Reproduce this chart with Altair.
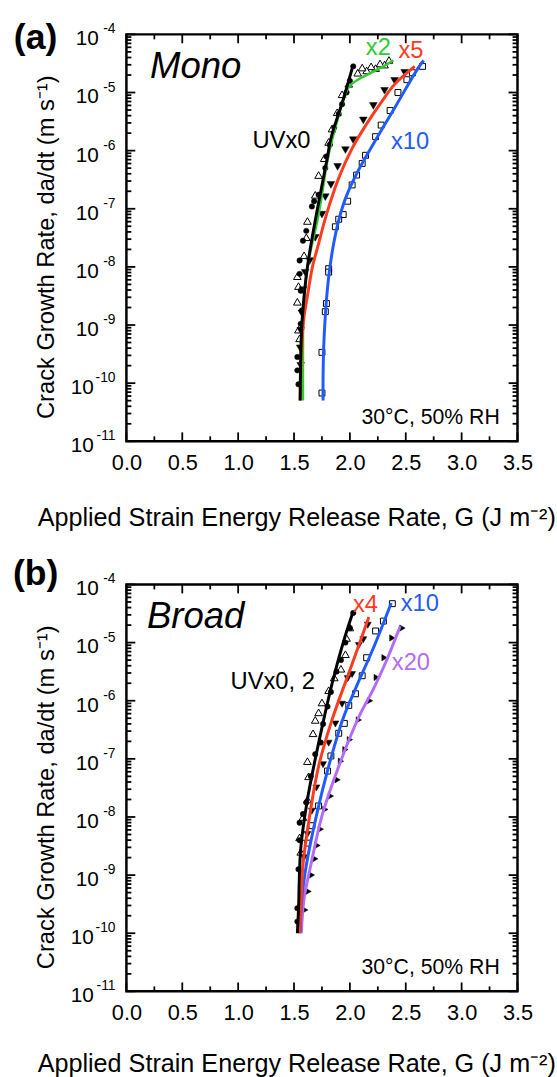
import altair as alt
import pandas as pd

# ---------------- Panel (a): Mono ----------------
# fitted curves (G in J m^-2, log10 of da/dt in m s^-1)
a_uv0_line_G = [1.555, 1.557, 1.563, 1.575, 1.62, 1.695, 1.75, 1.80, 1.83, 1.945, 2.03]
a_uv0_line_L = [-10.3, -9.9, -9.3, -8.85, -8.0, -7.15, -6.6, -6.1, -5.79, -5.09, -4.52]
a_x2_line_G = [1.58, 1.58, 1.583, 1.60, 1.64, 1.715, 1.815, 1.90, 1.965, 2.0, 2.08, 2.2, 2.3, 2.39]
a_x2_line_L = [-10.3, -9.8, -8.85, -8.3, -7.8, -7.15, -6.02, -5.4, -5.0, -4.88, -4.77, -4.65, -4.55, -4.45]
a_x5_line_G = [1.555, 1.56, 1.57, 1.59, 1.62, 1.665, 1.72, 1.79, 1.90, 2.02, 2.14, 2.28, 2.40, 2.58]
a_x5_line_L = [-10.3, -9.8, -9.3, -8.85, -8.5, -8.0, -7.6, -7.1, -6.47, -5.96, -5.57, -5.17, -4.86, -4.55]
a_x10_line_G = [1.76, 1.76, 1.765, 1.775, 1.79, 1.815, 1.85, 1.90, 1.965, 2.07, 2.22, 2.42, 2.61, 2.66]
a_x10_line_L = [-10.3, -9.93, -9.42, -9.0, -8.57, -8.1, -7.65, -7.2, -6.8, -6.36, -5.85, -5.2, -4.58, -4.45]

# measured points
a_uv0_pts_G = [2.03, 2.0, 1.97, 1.93, 1.90, 1.86, 1.82, 1.79, 1.78, 1.72, 1.68, 1.66, 1.61, 1.58,
               1.55, 1.55, 1.56, 1.57, 1.56, 1.53, 1.53, 1.54]
a_uv0_pts_L = [-4.55, -4.8, -5.0, -5.2, -5.37, -5.6, -5.9, -6.1, -6.3, -6.76, -6.87, -6.96, -7.38, -7.55,
               -7.89, -8.12, -8.41, -8.75, -8.98, -9.55, -9.78, -10.02]
a_x2_pts_G = [2.35, 2.31, 2.27, 2.23, 2.19, 2.15, 2.11, 2.07, 1.99, 1.93, 1.886, 1.84, 1.81, 1.77,
              1.72, 1.69, 1.62, 1.61, 1.59, 1.53, 1.54, 1.53, 1.54, 1.55]
a_x2_pts_L = [-4.44, -4.52, -4.5, -4.58, -4.55, -4.62, -4.57, -4.66, -4.85, -5.03, -5.34, -5.62, -5.85, -6.13,
              -6.42, -6.76, -7.21, -7.49, -7.8, -8.16, -8.33, -8.6, -9.08, -9.23]
a_x5_pts_G = [2.49, 2.40, 2.31, 2.21, 2.12, 2.03, 1.96, 1.89, 1.83, 1.78, 1.75, 1.69, 1.64, 1.60,
              1.58, 1.57, 1.56, 1.555, 1.56]
a_x5_pts_L = [-4.66, -4.80, -4.97, -5.23, -5.48, -5.82, -5.99, -6.28, -6.59, -6.8, -7.1, -7.5, -7.9, -8.1,
              -8.4, -8.8, -9.1, -9.4, -9.7]
a_x10_pts_G = [2.65, 2.56, 2.51, 2.43, 2.36, 2.28, 2.23, 2.14, 2.11, 2.06, 2.02, 1.98, 1.94, 1.90,
               1.87, 1.81, 1.81, 1.79, 1.78, 1.75, 1.75]
a_x10_pts_L = [-4.55, -4.66, -4.78, -5.0, -5.31, -5.56, -5.76, -6.08, -6.22, -6.42, -6.59, -6.87, -7.1, -7.18,
               -7.31, -8.03, -8.09, -8.63, -8.77, -9.47, -10.17]

# ---------------- Panel (b): Broad ----------------
b_uv02_line_G = [1.53, 1.54, 1.56, 1.62, 1.72, 1.84, 1.94, 2.03]
b_uv02_line_L = [-10.0, -9.6, -8.55, -7.70, -6.73, -5.71, -5.0, -4.46]
b_x4_line_G = [1.55, 1.565, 1.58, 1.64, 1.72, 1.84, 2.02, 2.17]
b_x4_line_L = [-10.0, -9.4, -8.83, -7.98, -7.13, -6.33, -5.37, -4.56]
b_x10_line_G = [1.555, 1.57, 1.61, 1.70, 1.81, 1.94, 2.06, 2.22, 2.37]
b_x10_line_L = [-10.0, -9.4, -8.83, -7.98, -7.13, -6.3, -5.75, -5.05, -4.32]
b_x20_line_G = [1.565, 1.59, 1.65, 1.75, 1.90, 2.08, 2.21, 2.33, 2.45]
b_x20_line_L = [-10.0, -9.4, -8.83, -7.98, -7.13, -6.28, -5.8, -5.3, -4.72]

b_uv0_pts_G = [2.03, 2.0, 1.96, 1.92, 1.88, 1.83, 1.80, 1.76, 1.74, 1.69, 1.65, 1.61, 1.58, 1.55,
               1.55, 1.54, 1.53, 1.53]
b_uv0_pts_L = [-4.49, -4.75, -5.0, -5.3, -5.5, -5.85, -6.1, -6.4, -6.72, -6.92, -7.3, -7.75, -7.95, -8.10,
               -8.4, -8.9, -9.57, -9.8]
b_x2_pts_G = [2.00, 1.97, 1.96, 1.92, 1.86, 1.81, 1.75, 1.72, 1.69, 1.67, 1.62, 1.63, 1.62, 1.58,
              1.55, 1.56]
b_x2_pts_L = [-4.74, -4.92, -5.2, -5.45, -5.6, -5.82, -6.03, -6.2, -6.33, -6.56, -7.04, -7.3, -7.70, -8.0,
              -8.35, -8.6]
b_x4_pts_G = [2.16, 2.12, 2.08, 2.02, 1.98, 1.93, 1.87, 1.81, 1.76, 1.70, 1.66, 1.62, 1.59]
b_x4_pts_L = [-4.70, -4.95, -5.05, -5.55, -5.62, -6.06, -6.4, -6.73, -7.1, -7.5, -7.9, -8.3, -8.7]
b_x10_pts_G = [2.38, 2.30, 2.23, 2.15, 2.11, 2.05, 1.99, 1.95, 1.90, 1.83, 1.80, 1.72, 1.66, 1.62]
b_x10_pts_L = [-4.33, -4.63, -4.8, -5.26, -5.57, -5.88, -6.08, -6.39, -6.56, -6.95, -7.21, -7.81, -8.15, -8.45]
b_x20_pts_G = [2.47, 2.38, 2.31, 2.24, 2.18, 2.08, 2.00, 1.96, 1.92, 1.89, 1.83, 1.78, 1.74, 1.71,
               1.69, 1.66, 1.63, 1.60]
b_x20_pts_L = [-4.75, -4.92, -5.26, -5.60, -6.0, -6.33, -6.67, -6.84, -7.04, -7.36, -7.64, -7.87, -8.21, -8.49,
               -8.72, -9.0, -9.28, -9.6]

# ---------------- annotations (G, log10 rate) ----------------
a_labels = [("x2", 2.255, -4.238, "#2ecc2e"), ("x5", 2.546, -4.289, "#ff3b1f"),
            ("UVx0", 1.388, -5.834, "black"), ("x10", 2.538, -5.851, "#1f5bff")]
b_labels = [("x4", 2.14, -4.358, "#ff3b1f"), ("x10", 2.626, -4.34, "#1f5bff"),
            ("x20", 2.546, -5.346, "#b26cf5"), ("UVx0, 2", 1.309, -5.687, "black")]
a_tag = ("(a)", -0.813, -4.07)
b_tag = ("(b)", -0.813, -3.83)
cond_text = "30°C, 50% RH"

# ---------------- axis ticks and labels ----------------
x_major = [0.0, 0.5, 1.0, 1.5, 2.0, 2.5, 3.0, 3.5]
x_minor = [0.25, 0.75, 1.25, 1.75, 2.25, 2.75, 3.25]
y_decades = [1e-11, 1e-10, 1e-9, 1e-8, 1e-7, 1e-6, 1e-5, 1e-4]
y_exponents = ["-11", "-10", "-9", "-8", "-7", "-6", "-5", "-4"]
y_minor = [k * d for d in y_decades[:-1] for k in range(2, 10)]

W = 396
H = 412
BLACK = "black"
FONT = "Liberation Sans"

xs = alt.Scale(domain=[0, 3.5], nice=False, zero=False)
ys = alt.Scale(type="log", domain=[1e-11, 1e-4], nice=False)


def make_axes(title_y):
    xaxis = alt.Axis(values=x_major, format=".1f", ticks=False, domain=False, grid=False,
                     labelFontSize=22, labelPadding=12, labelColor=BLACK, labelFlush=False,
                     labelOverlap=False, labelFont=FONT,
                     title="Applied Strain Energy Release Rate, G (J m⁻²)", titleFontSize=25.5,
                     titleFontWeight="normal", titleColor=BLACK, titleFont=FONT,
                     titleX=172, titleY=title_y, titleBaseline="middle")
    yaxis = alt.Axis(values=y_decades, labels=False, ticks=False, domain=False, grid=False,
                     title="Crack Growth Rate, da/dt (m s⁻¹)", titleFontSize=24,
                     titleFontWeight="normal", titleColor=BLACK, titleFont=FONT,
                     titleX=-81, titleY=215, titleBaseline="middle")
    return xaxis, yaxis


def to_df(G, L):
    return pd.DataFrame({"G": G, "rate": [10.0 ** v for v in L], "i": list(range(len(G)))})


def build_panel(axes, points, lines, labels, word, tag):
    XA, YA = axes

    def xenc():
        return alt.X("G:Q", scale=xs, axis=XA)

    def yenc():
        return alt.Y("rate:Q", scale=ys, axis=YA)

    layers = []
    xm = pd.DataFrame({"G": x_major})
    xn = pd.DataFrame({"G": x_minor})
    ym = pd.DataFrame({"rate": y_decades})
    yn = pd.DataFrame({"rate": y_minor})
    rule = dict(color=BLACK, strokeWidth=1.8)
    for d, ln in ((xm, 9), (xn, 5)):
        layers.append(alt.Chart(d).mark_rule(**rule).encode(x=xenc(), y=alt.value(H), y2=alt.value(H - ln)))
        layers.append(alt.Chart(d).mark_rule(**rule).encode(x=xenc(), y=alt.value(0), y2=alt.value(ln)))
    for d, ln in ((ym, 9), (yn, 5)):
        layers.append(alt.Chart(d).mark_rule(**rule).encode(y=yenc(), x=alt.value(0), x2=alt.value(ln)))
        layers.append(alt.Chart(d).mark_rule(**rule).encode(y=yenc(), x=alt.value(W), x2=alt.value(W - ln)))

    # y tick labels: "10" with a raised exponent
    lab = pd.DataFrame({"rate": y_decades, "e": y_exponents, "ten": ["10"] * len(y_decades)})
    lab["n"] = lab["e"].str.len()
    base = alt.Chart(lab)
    layers.append(base.mark_text(fontSize=14, font=FONT, align="right", baseline="middle", dy=-5,
                                 color=BLACK).encode(y=yenc(), x=alt.value(-11), text="e:N"))
    layers.append(base.transform_filter("datum.n == 2").mark_text(
        fontSize=21, font=FONT, align="right", baseline="middle", dy=5, color=BLACK).encode(
        y=yenc(), x=alt.value(-28), text="ten:N"))
    layers.append(base.transform_filter("datum.n == 3").mark_text(
        fontSize=21, font=FONT, align="right", baseline="middle", dy=5, color=BLACK).encode(
        y=yenc(), x=alt.value(-33), text="ten:N"))

    for G, L, shape, size, filled in points:
        if filled:
            m = alt.Chart(to_df(G, L)).mark_point(shape=shape, size=size, filled=True, fill=BLACK,
                                                  stroke=BLACK, strokeWidth=0.5, opacity=1)
        else:
            m = alt.Chart(to_df(G, L)).mark_point(shape=shape, size=size, filled=True, fill="white",
                                                  stroke=BLACK, strokeWidth=1, opacity=1)
        layers.append(m.encode(x=xenc(), y=yenc()))

    for G, L, color, width in lines:
        layers.append(alt.Chart(to_df(G, L)).mark_line(color=color, strokeWidth=width,
                                                       interpolate="catmull-rom").encode(
            x=xenc(), y=yenc(), order="i:Q"))

    d = pd.DataFrame({"G": [t[1] for t in labels], "rate": [10.0 ** t[2] for t in labels],
                      "t": [t[0] for t in labels], "c": [t[3] for t in labels]})
    layers.append(alt.Chart(d).mark_text(fontSize=24, font=FONT, align="center", baseline="middle").encode(
        x=xenc(), y=yenc(), text="t:N", color=alt.Color("c:N", scale=None)))
    layers.append(alt.Chart(pd.DataFrame({"G": [0.62], "rate": [10.0 ** -4.56], "t": [word]})).mark_text(
        fontSize=37, font=FONT, fontStyle="italic", align="center", baseline="middle", color=BLACK).encode(
        x=xenc(), y=yenc(), text="t:N"))
    layers.append(alt.Chart(pd.DataFrame({"G": [3.341], "rate": [10.0 ** -10.6], "t": [cond_text]})).mark_text(
        fontSize=21.5, font=FONT, align="right", baseline="middle", color=BLACK).encode(
        x=xenc(), y=yenc(), text="t:N"))
    layers.append(alt.Chart(pd.DataFrame({"G": [tag[1]], "rate": [10.0 ** tag[2]], "t": [tag[0]]})).mark_text(
        fontSize=36, font=FONT, fontWeight="bold", align="center", baseline="middle", color=BLACK).encode(
        x=xenc(), y=yenc(), text="t:N"))
    return alt.layer(*layers).properties(width=W, height=H)


GREEN, RED, BLUE, PURPLE = "#2ecc2e", "#ff3b1f", "#1f5bff", "#b26cf5"

panel_a = build_panel(
    make_axes(77),
    [(a_x2_pts_G, a_x2_pts_L, "triangle-up", 60, False),
     (a_x10_pts_G, a_x10_pts_L, "square", 36, False),
     (a_x5_pts_G, a_x5_pts_L, "triangle-down", 60, True),
     (a_uv0_pts_G, a_uv0_pts_L, "circle", 30, True)],
    [(a_x2_line_G, a_x2_line_L, GREEN, 2.5),
     (a_x5_line_G, a_x5_line_L, RED, 3.0),
     (a_x10_line_G, a_x10_line_L, BLUE, 3.0),
     (a_uv0_line_G, a_uv0_line_L, BLACK, 3.0)],
    a_labels, "Mono", a_tag)

panel_b = build_panel(
    make_axes(73),
    [(b_x2_pts_G, b_x2_pts_L, "triangle-up", 60, False),
     (b_x10_pts_G, b_x10_pts_L, "square", 36, False),
     (b_x4_pts_G, b_x4_pts_L, "triangle-down", 50, True),
     (b_x20_pts_G, b_x20_pts_L, "triangle-right", 40, True),
     (b_uv0_pts_G, b_uv0_pts_L, "circle", 30, True)],
    [(b_x20_line_G, b_x20_line_L, PURPLE, 3.0),
     (b_x10_line_G, b_x10_line_L, BLUE, 3.0),
     (b_x4_line_G, b_x4_line_L, RED, 3.0),
     (b_uv02_line_G, b_uv02_line_L, BLACK, 3.0)],
    b_labels, "Broad", b_tag)

chart = alt.vconcat(panel_a, panel_b, spacing=23).properties(
    padding={"left": 11, "top": 12, "right": 0, "bottom": 0},
    background="white",
).configure(font=FONT).configure_view(stroke=BLACK, strokeWidth=2.5)

chart.save("out.html", embed_options={"renderer": "svg", "actions": False})
